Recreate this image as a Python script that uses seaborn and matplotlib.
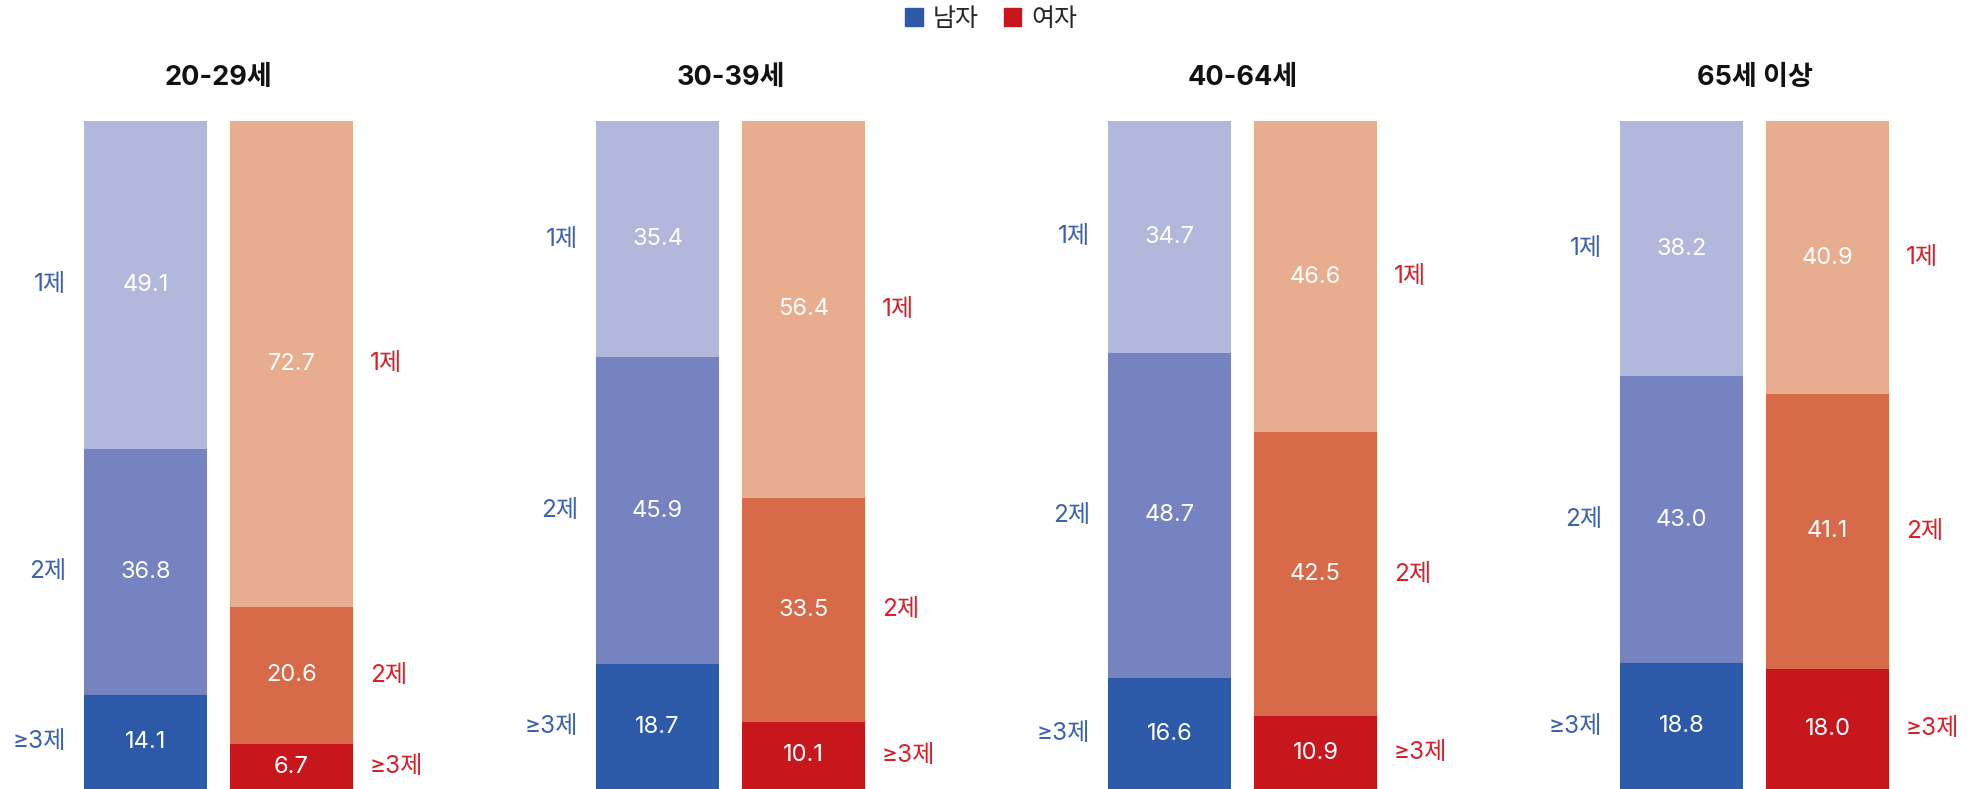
import matplotlib
matplotlib.use('Agg')
import matplotlib.pyplot as plt
from matplotlib.patches import Patch
import seaborn as sns
import pandas as pd

groups = ['20-29세', '30-39세', '40-64세', '65세 이상']
sexes = ['남자', '여자']
men_1 = [49.1, 35.4, 34.7, 38.2]
men_2 = [36.8, 45.9, 48.7, 43.0]
men_3 = [14.1, 18.7, 16.6, 18.8]
women_1 = [72.7, 56.4, 46.6, 40.9]
women_2 = [20.6, 33.5, 42.5, 41.1]
women_3 = [6.7, 10.1, 10.9, 18.0]
seg_labels = ['1제', '2제', '≥3제']

men_colors = ['#B2B8DC', '#7584C0', '#2D5AA8']
women_colors = ['#E8AC8E', '#D76A48', '#C8161D']
men_text = '#3A62B0'
women_text = '#D6202A'

sns.set_theme(style='white')
plt.rcParams['font.family'] = ['Inter', 'Noto Sans CJK KR', 'DejaVu Sans']

W, H = 1982, 789
fig = plt.figure(figsize=(W / 100, H / 100), dpi=100)

bw = 123 / 146
for i, g in enumerate(groups):
    left = (84 + i * 512) / W
    ax = fig.add_axes([left, 0, 269 / W, (H - 121) / H])
    m = [men_1[i], men_2[i], men_3[i]]
    f = [women_1[i], women_2[i], women_3[i]]
    # bottoms of segments 1, 2, ≥3 (≥3 sits at the bottom)
    m_bottom = [m[2] + m[1], m[2], 0]
    f_bottom = [f[2] + f[1], f[2], 0]
    # draw cumulative heights, tallest first
    for k in range(3):
        top_m = m_bottom[k] + m[k]
        top_f = f_bottom[k] + f[k]
        df = pd.DataFrame({'sex': sexes, 'val': [top_m, top_f]})
        sns.barplot(data=df, x='sex', y='val', hue='sex',
                    palette=[men_colors[k], women_colors[k]],
                    width=bw, legend=False, ax=ax, saturation=1,
                    linewidth=0, err_kws={'linewidth': 0})
    for k in range(3):
        ym = m_bottom[k] + m[k] / 2
        yf = f_bottom[k] + f[k] / 2
        ax.text(0, ym, f'{m[k]:.1f}', ha='center', va='center',
                color='white', fontsize=17)
        ax.text(1, yf, f'{f[k]:.1f}', ha='center', va='center',
                color='white', fontsize=17)
        ax.annotate(seg_labels[k], xy=(-bw / 2, ym), xytext=(-13, 0),
                    textcoords='offset points', ha='right', va='center',
                    color=men_text, fontsize=17.5, annotation_clip=False)
        ax.annotate(seg_labels[k], xy=(1 + bw / 2, yf), xytext=(12, 0),
                    textcoords='offset points', ha='left', va='center',
                    color=women_text, fontsize=17.5, annotation_clip=False)
    ax.annotate(g, xy=(0.5, 1), xycoords='axes fraction', xytext=(0, 31),
                textcoords='offset points', ha='center', va='center',
                fontsize=19.5, fontweight='bold', color='#111111')
    ax.set_xlim(-bw / 2, 1 + bw / 2)
    ax.set_ylim(0, 100)
    ax.axis('off')

handles = [Patch(color=men_colors[2]), Patch(color=women_colors[2])]
fig.legend(handles, sexes, loc='center', bbox_to_anchor=(0.5, 1 - 19 / H),
           ncol=2, frameon=False, fontsize=18, handlelength=0.7,
           handleheight=0.7, handletextpad=0.4, columnspacing=1.0,
           borderaxespad=0)

fig.savefig('out.png', dpi=100)
